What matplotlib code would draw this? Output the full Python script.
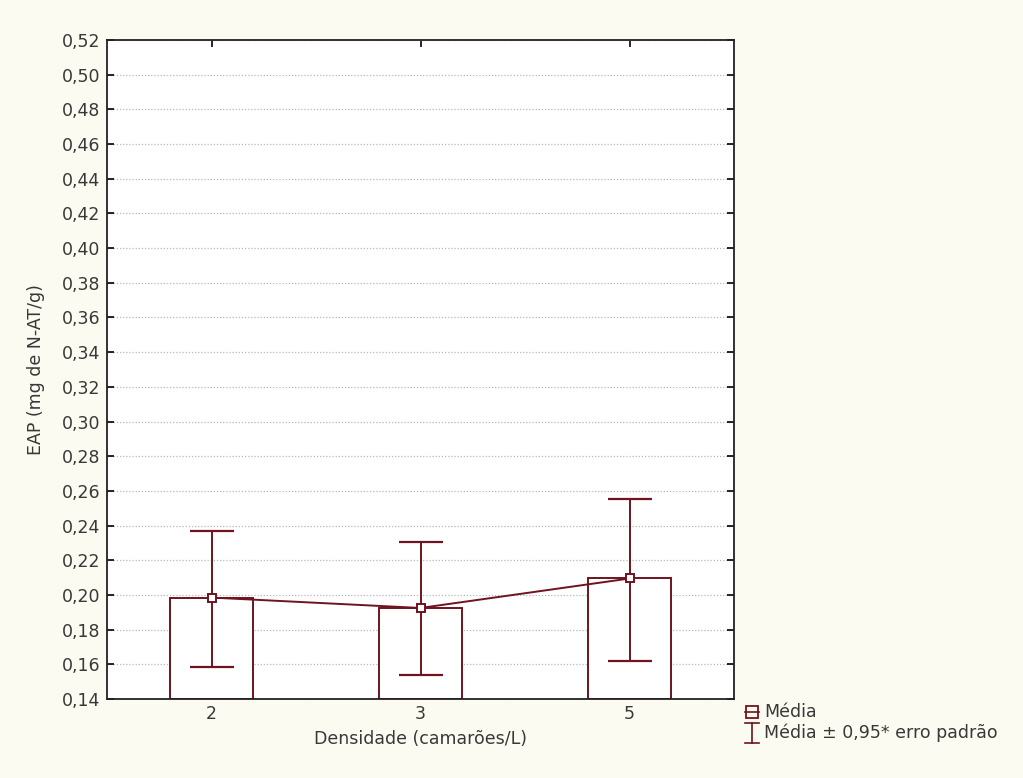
import matplotlib
matplotlib.use('Agg')
import matplotlib.pyplot as plt
from matplotlib.lines import Line2D
import numpy as np

plt.rcParams['font.family'] = ['DejaVu Sans']

# Data
densidades = ['2', '3', '5']
media = [0.1985, 0.1925, 0.2095]
erro_sup = [0.2368, 0.2304, 0.2555]
erro_inf = [0.1587, 0.1540, 0.1620]
yticks = np.round(np.arange(0.14, 0.5201, 0.02), 2)

LINE = '#6e1420'
BG = '#fcfbf1'
TXT = '#383838'

fig = plt.figure(figsize=(10.23, 7.78), dpi=100, facecolor=BG)
ax = fig.add_axes([0.1046, 0.1015, 0.6129, 0.8471])
ax.set_facecolor('white')

x = np.arange(1, len(densidades) + 1)
# bars from the axis floor up to the mean
ax.bar(x, np.array(media) - 0.14, bottom=0.14, width=0.40,
       facecolor='white', edgecolor=LINE, linewidth=1.4, zorder=2)

# error bars (mean +/- 0.95 * standard error)
lower = np.array(media) - np.array(erro_inf)
upper = np.array(erro_sup) - np.array(media)
ax.errorbar(x, media, yerr=[lower, upper], fmt='none', ecolor=LINE,
            elinewidth=1.4, capsize=16, capthick=1.6, zorder=3)

# mean line with square markers
ax.plot(x, media, color=LINE, linewidth=1.4, marker='s', markersize=6,
        markerfacecolor='white', markeredgecolor=LINE, markeredgewidth=1.4,
        zorder=4)

ax.set_xlim(0.5, 3.5)
ax.set_ylim(0.14, 0.52)
ax.set_xticks(x)
ax.set_xticklabels(densidades)
ax.set_yticks(yticks)
ax.set_yticklabels([f'{v:.2f}'.replace('.', ',') for v in yticks])
ax.grid(axis='y', color='#b8b8b8', linestyle=(0, (1, 1.5)), linewidth=0.9)
ax.set_axisbelow(True)

ax.tick_params(direction='in', length=5, width=1.2, labelsize=12.5,
               top=True, right=True, colors='black', labelcolor=TXT)
ax.tick_params(axis='y', pad=5)
ax.tick_params(axis='x', pad=4)
for s in ax.spines.values():
    s.set_linewidth(1.3)
    s.set_color('#222222')

ax.set_xlabel('Densidade (camarões/L)', fontsize=12.5, color=TXT, labelpad=5)
ax.set_ylabel('EAP (mg de N-AT/g)', fontsize=12.5, color=TXT, labelpad=12)

# legend drawn at figure level (outside axes, bottom right)
lx, ly1, ly2 = 0.735, 0.085, 0.058
fig.add_artist(Line2D([lx - 0.007, lx + 0.007], [ly1, ly1], color=LINE,
                      linewidth=1.2, transform=fig.transFigure))
fig.add_artist(Line2D([lx], [ly1], marker='s', markersize=9,
                      markerfacecolor='none', markeredgecolor=LINE,
                      markeredgewidth=1.3, transform=fig.transFigure))
fig.text(lx + 0.012, ly1, 'Média', fontsize=12.5, va='center', color=TXT)

fig.add_artist(Line2D([lx, lx], [ly2 - 0.013, ly2 + 0.013], color=LINE,
                      linewidth=1.2, transform=fig.transFigure))
fig.add_artist(Line2D([lx - 0.007, lx + 0.007], [ly2 + 0.013, ly2 + 0.013],
                      color=LINE, linewidth=1.2, transform=fig.transFigure))
fig.add_artist(Line2D([lx - 0.007, lx + 0.007], [ly2 - 0.013, ly2 - 0.013],
                      color=LINE, linewidth=1.2, transform=fig.transFigure))
fig.text(lx + 0.012, ly2, 'Média ± 0,95* erro padrão', fontsize=12.5,
         va='center', color=TXT)

fig.savefig('out.png', dpi=100, facecolor=BG)
